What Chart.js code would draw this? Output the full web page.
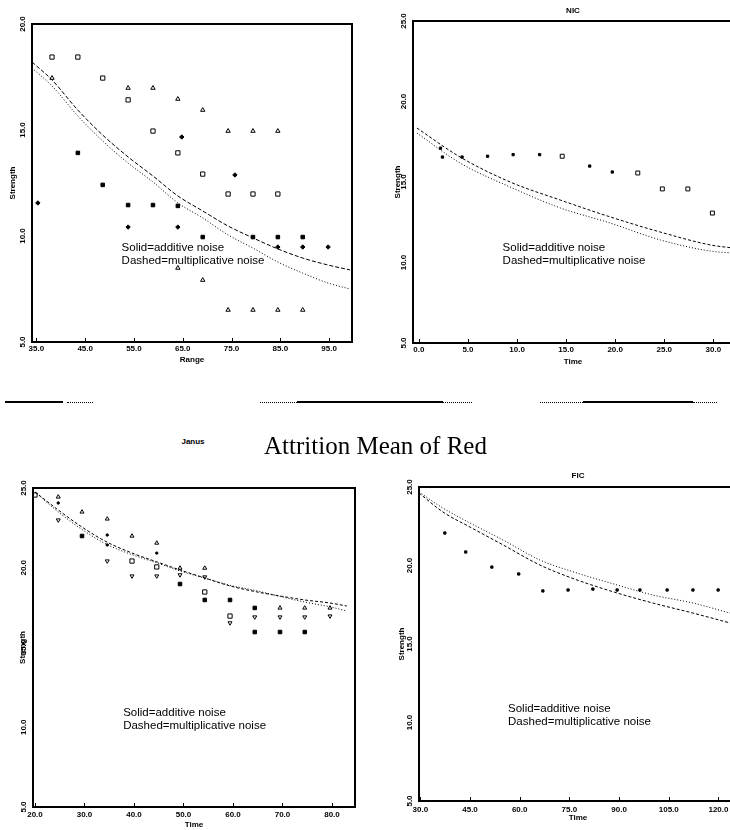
<!DOCTYPE html>
<html>
<head>
<meta charset="utf-8">
<script src="https://cdn.jsdelivr.net/npm/chart.js@4.4.0/dist/chart.umd.min.js"></script>
<style>
  html, body { margin: 0; padding: 0; background: #fff; color: #000; }
  body { width: 730px; height: 830px; position: relative; overflow: hidden; font-family: "Liberation Sans", Arial, sans-serif; }
  canvas { position: absolute; }
  .rule { position: absolute; top: 401px; height: 0; border-top: 2px solid #000; }
  .rule.dot { border-top: 1px dotted #000; top: 402px; }
  #mainTitle { position: absolute; left: 0; width: 751px; top: 433px; text-align: center; font: 25px "Liberation Serif", "Times New Roman", serif; line-height: 25px; }
  .ptitle { position: absolute; color: #000; font: bold 8px "Liberation Sans", Arial, sans-serif; transform: translate(-50%, -50%); white-space: nowrap; }
</style>
</head>
<body>
<canvas id="tl" width="360" height="372" style="left:0;top:0"></canvas>
<canvas id="tr" width="370" height="373" style="left:372px;top:0"></canvas>
<canvas id="bl" width="363" height="370" style="left:0;top:460px"></canvas>
<canvas id="br" width="374" height="370" style="left:372px;top:460px"></canvas>

<div class="ptitle" style="left:573px;top:10px">NIC</div>
<div class="ptitle" style="left:193px;top:441px">Janus</div>
<div class="ptitle" style="left:578px;top:475px">FIC</div>
<div id="mainTitle">Attrition Mean of Red</div>

<!-- broken separator rules between the two rows -->
<div class="rule" style="left:5px;width:58px"></div>
<div class="rule dot" style="left:67px;width:26px"></div>
<div class="rule dot" style="left:260px;width:37px"></div>
<div class="rule" style="left:297px;width:146px"></div>
<div class="rule dot" style="left:443px;width:29px"></div>
<div class="rule dot" style="left:540px;width:43px"></div>
<div class="rule" style="left:583px;width:110px"></div>
<div class="rule dot" style="left:693px;width:24px"></div>

<script>
// ---- top-left panel ----
const tlTicksX = [35, 45, 55, 65, 75, 85, 95];
const tlTicksY = [5, 10, 15, 20];
const tlCurveX = [34.1, 38.2, 43.5, 48.6, 53.8, 58.9, 64.0, 69.1, 74.3, 79.4, 84.5, 89.6, 94.8, 99.3];
const tlSolid  = [18.21, 17.36, 15.94, 14.76, 13.73, 12.83, 11.89, 11.18, 10.47, 9.91, 9.39, 8.96, 8.63, 8.40];
const tlDashed = [17.92, 17.08, 15.66, 14.48, 13.44, 12.55, 11.56, 10.85, 10.05, 9.43, 8.77, 8.25, 7.78, 7.50];
const tlSquaresA = [[38.2,18.44],[43.5,18.44],[48.6,17.45],[53.8,16.42],[58.9,14.95],[64.0,13.92],[69.1,12.92],[74.3,11.98],[79.4,11.98],[84.5,11.98]];
const tlSquaresB = [[43.5,13.92],[48.6,12.41],[53.8,11.46],[58.9,11.46],[64.0,11.42],[69.1,9.95],[79.4,9.95],[84.5,9.95],[89.6,9.95]];
const tlTriUpper = [[38.2,17.45],[53.8,16.98],[58.9,16.98],[64.0,16.46],[69.1,15.94],[74.3,14.95],[79.4,14.95],[84.5,14.95]];
const tlTriLower = [[64.0,8.49],[69.1,7.92],[74.3,6.51],[79.4,6.51],[84.5,6.51],[89.6,6.51]];
const tlDiamonds = [[84.5,9.48],[89.6,9.48],[94.8,9.48],[53.8,10.42],[64.0,10.42],[35.3,11.56],[75.7,12.88],[64.8,14.67]];

// ---- top-right panel (NIC) ----
const trTicksX = [0, 5, 10, 15, 20, 25, 30];
const trTicksY = [5, 10, 15, 20, 25];
const trCurveX = [-0.2, 4.2, 9.3, 14.4, 19.5, 24.6, 29.7, 32.0];
const trSolid  = [18.35, 16.55, 15.00, 13.88, 12.83, 11.89, 11.09, 10.90];
const trDashed = [18.04, 16.18, 14.69, 13.39, 12.45, 11.40, 10.71, 10.59];
const trMarks  = [[2.2,17.1],[2.4,16.55],[4.4,16.55],[7.0,16.6],[9.6,16.7],[12.3,16.7],[17.4,15.99],[19.7,15.62]];
const trSquares = [[14.6,16.6],[22.3,15.56],[24.8,14.57],[27.4,14.57],[29.9,13.07]];

// ---- bottom-left panel (Janus) ----
const blTicksX = [20, 30, 40, 50, 60, 70, 80];
const blTicksY = [5, 10, 15, 20, 25];
const blCurveX = [20.0, 24.7, 29.5, 34.6, 39.8, 44.7, 49.3, 54.3, 59.4, 64.9, 69.5, 74.5, 79.6, 83.0];
const blSolid  = [24.75, 23.62, 22.55, 21.60, 20.90, 20.36, 19.86, 19.36, 18.86, 18.48, 18.23, 17.98, 17.79, 17.60];
const blDashed = [24.75, 23.50, 22.40, 21.45, 20.80, 20.30, 19.80, 19.35, 18.90, 18.55, 18.20, 17.85, 17.55, 17.29];
const blSquares = [[20.0,24.56],[39.6,20.42],[44.6,20.05],[54.3,18.48],[59.4,16.97]];
const blFilled  = [[29.5,21.99],[49.3,18.98],[54.3,17.98],[59.4,17.98],[64.4,17.48],[64.4,15.97],[69.5,15.97],[74.5,15.97]];
const blTriUp   = [[24.7,24.44],[29.5,23.5],[34.6,23.06],[39.6,21.99],[44.6,21.55],[49.3,19.98],[54.3,19.98],[69.5,17.48],[74.5,17.48],[79.6,17.48]];
const blTriDown = [[24.7,22.99],[34.6,20.42],[39.6,19.48],[44.6,19.48],[49.3,19.55],[54.3,19.42],[59.4,16.54],[64.4,16.91],[69.5,16.91],[74.5,16.91],[79.6,16.97]];
const blDots    = [[24.7,24.06],[34.6,22.05],[34.6,21.43],[44.6,20.92]];

// ---- bottom-right panel (FIC) ----
const brTicksX = [30, 45, 60, 75, 90, 105, 120];
const brTicksY = [5, 10, 15, 20, 25];
const brCurveX = [29.6, 36.8, 45.0, 55.0, 66.1, 77.3, 89.4, 100.2, 112.3, 123.5];
const brSolid  = [24.68, 23.66, 22.71, 21.62, 20.35, 19.52, 18.76, 18.12, 17.61, 16.97];
const brDashed = [24.62, 23.41, 22.45, 21.31, 20.03, 19.08, 18.25, 17.61, 16.97, 16.34];
const brMarks  = [[37.4,22.07],[43.7,20.86],[51.6,19.9],[59.7,19.46],[67.0,18.38],[74.6,18.44],[82.1,18.5],[89.4,18.44],[96.3,18.44],[104.5,18.44],[112.3,18.44],[119.9,18.44]];

const INK = '#000';
const tickFont = { family: '"Liberation Sans", Arial, sans-serif', size: 8, weight: 'bold' };

const curve = (xs, ys) => xs.map((x, i) => ({ x, y: ys[i] }));
const pts = pairs => pairs.map(p => ({ x: p[0], y: p[1] }));

function lineSet(xs, ys, dash) {
    return { type: 'line', data: curve(xs, ys), borderColor: INK, borderWidth: 1, borderDash: dash,
             pointRadius: 0, fill: false, cubicInterpolationMode: 'monotone' };
}
function markSet(pairs, style, r, filled, rot) {
    return { data: pts(pairs), pointStyle: style, pointRadius: r, pointRotation: rot || 0,
             borderColor: INK, borderWidth: 1, backgroundColor: filled ? INK : '#fff' };
}

// frame, inner x ticks, rotated y labels, noise note
const paperPlugin = {
    id: 'paper',
    afterDraw(chart) {
        const { ctx, chartArea: a, scales: { x, y } } = chart;
        ctx.save();
        ctx.strokeStyle = INK;
        ctx.lineWidth = 2;
        ctx.strokeRect(a.left, a.top, a.right - a.left, a.bottom - a.top);
        ctx.lineWidth = 1;
        x.ticks.forEach(t => {
            const px = Math.round(x.getPixelForValue(t.value)) + 0.5;
            ctx.beginPath(); ctx.moveTo(px, a.bottom); ctx.lineTo(px, a.bottom - 4); ctx.stroke();
        });
        ctx.fillStyle = INK;
        ctx.font = 'bold 8px "Liberation Sans", Arial, sans-serif';
        ctx.textAlign = 'center';
        ctx.textBaseline = 'middle';
        y.ticks.forEach(t => {
            ctx.save();
            ctx.translate(a.left - 9, y.getPixelForValue(t.value));
            ctx.rotate(-Math.PI / 2);
            ctx.fillText(t.value.toFixed(1), 0, 0);
            ctx.restore();
        });
        ctx.font = '11.5px "Liberation Sans", Arial, sans-serif';
        ctx.textAlign = 'left';
        const nx = a.left + (a.right - a.left) * 0.28;
        const ny = a.top + (a.bottom - a.top) * 0.705;
        ctx.fillText('Solid=additive noise', nx, ny);
        ctx.fillText('Dashed=multiplicative noise', nx, ny + 13);
        ctx.restore();
    }
};

function makePanel(id, p) {
    new Chart(document.getElementById(id), {
        type: 'scatter',
        data: { datasets: p.datasets },
        options: {
            responsive: false,
            animation: false,
            layout: { padding: p.pad },
            plugins: { legend: { display: false }, tooltip: { enabled: false } },
            scales: {
                x: {
                    type: 'linear', min: p.xMin, max: p.xMax,
                    afterFit: s => { s.height = p.xH; },
                    afterBuildTicks: s => { s.ticks = p.ticksX.map(v => ({ value: v })); },
                    grid: { display: false, drawTicks: false },
                    border: { display: false },
                    ticks: { font: tickFont, color: INK, padding: p.tickPad, maxRotation: 0, autoSkip: false,
                             callback: v => Number(v).toFixed(1) },
                    title: { display: true, text: p.xTitle, color: INK, font: tickFont, padding: { top: 0, bottom: p.xTitlePad } }
                },
                y: {
                    type: 'linear', min: p.yMin, max: p.yMax,
                    afterFit: s => { s.width = p.yW; },
                    afterBuildTicks: s => { s.ticks = p.ticksY.map(v => ({ value: v })); },
                    grid: { display: false, drawTicks: false },
                    border: { display: false },
                    ticks: { display: false },
                    title: { display: true, text: 'Strength', color: INK, font: tickFont, padding: { top: p.yTitlePad, bottom: 0 } }
                }
            }
        },
        plugins: [paperPlugin]
    });
}

makePanel('tl', {
    pad: { top: 24, left: 0, right: 8, bottom: 0 }, yW: 32, xH: 30, tickPad: 2,
    xMin: 34.1, xMax: 99.7, yMin: 5, yMax: 20, ticksX: tlTicksX, ticksY: tlTicksY,
    xTitle: 'Range', xTitlePad: 7, yTitlePad: 8,
    datasets: [
        lineSet(tlCurveX, tlSolid, [4, 2]),
        lineSet(tlCurveX, tlDashed, [1, 2]),
        markSet(tlSquaresA, 'rect', 3, false),
        markSet(tlSquaresB, 'rect', 2.5, true),
        markSet(tlTriUpper, 'triangle', 2.5, false),
        markSet(tlTriLower, 'triangle', 2.5, false),
        markSet(tlDiamonds, 'rectRot', 2.2, true)
    ]
});

makePanel('tr', {
    pad: { top: 21, left: 0, right: 9, bottom: 0 }, yW: 41, xH: 30, tickPad: 2,
    xMin: -0.6, xMax: 32, yMin: 5, yMax: 25, ticksX: trTicksX, ticksY: trTicksY,
    xTitle: 'Time', xTitlePad: 6, yTitlePad: 21,
    datasets: [
        lineSet(trCurveX, trSolid, [3, 2]),
        lineSet(trCurveX, trDashed, [1, 2]),
        markSet(trMarks, 'rect', 1.6, true),
        markSet(trSquares, 'rect', 2.8, false)
    ]
});

makePanel('bl', {
    pad: { top: 28, left: 0, right: 8, bottom: 0 }, yW: 33, xH: 23, tickPad: 3,
    xMin: 19.6, xMax: 84.65, yMin: 5, yMax: 25, ticksX: blTicksX, ticksY: blTicksY,
    xTitle: 'Time', xTitlePad: 0, yTitlePad: 18,
    datasets: [
        lineSet(blCurveX, blSolid, [3, 2]),
        lineSet(blCurveX, blDashed, [1, 2]),
        markSet(blSquares, 'rect', 3, false),
        markSet(blFilled, 'rect', 2.5, true),
        markSet(blTriUp, 'triangle', 2.3, false),
        markSet(blTriDown, 'triangle', 2.3, false, 180),
        markSet(blDots, 'circle', 1.2, true)
    ]
});

makePanel('br', {
    pad: { top: 27, left: 0, right: 9, bottom: 0 }, yW: 47, xH: 29, tickPad: 4,
    xMin: 29.6, xMax: 125.6, yMin: 5, yMax: 25, ticksX: brTicksX, ticksY: brTicksY,
    xTitle: 'Time', xTitlePad: 7, yTitlePad: 25,
    datasets: [
        lineSet(brCurveX, brSolid, [1, 2]),
        lineSet(brCurveX, brDashed, [3, 2]),
        markSet(brMarks, 'rect', 1.6, true)
    ]
});
</script>
</body>
</html>
